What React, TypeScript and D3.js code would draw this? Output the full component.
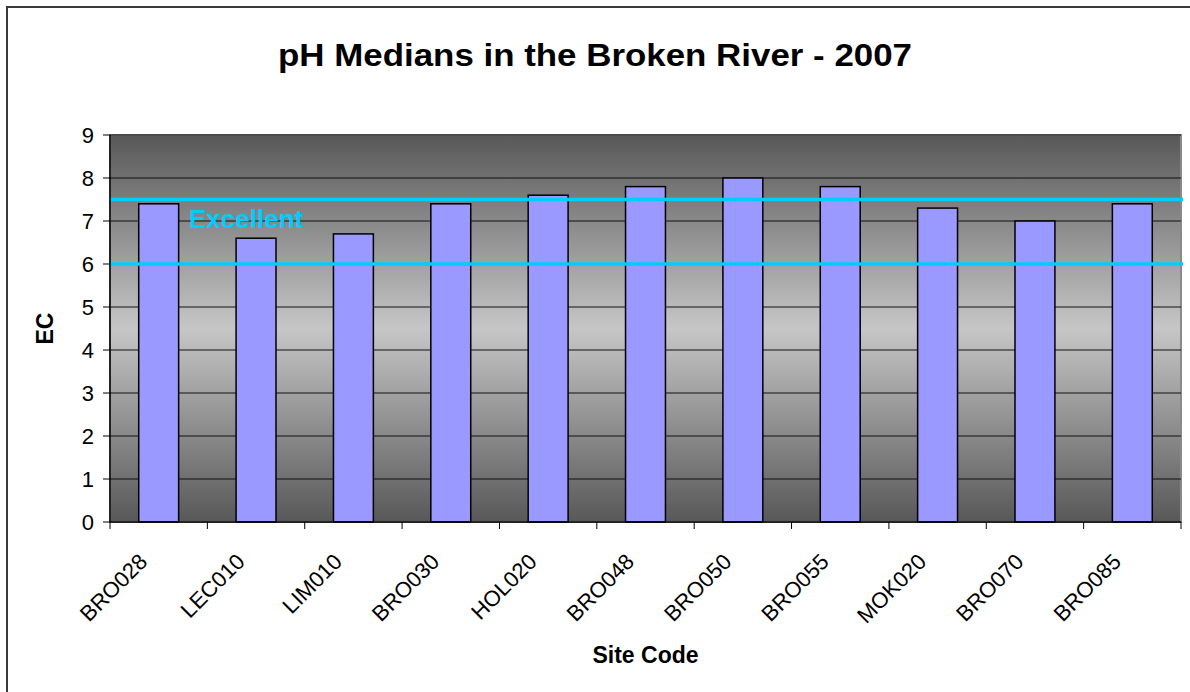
import React from 'react';
import * as d3 from 'd3';

const sites = ['BRO028', 'LEC010', 'LIM010', 'BRO030', 'HOL020', 'BRO048', 'BRO050', 'BRO055', 'MOK020', 'BRO070', 'BRO085'];
const phMedians = [7.4, 6.6, 6.7, 7.4, 7.6, 7.8, 8.0, 7.8, 7.3, 7.0, 7.4];
const yTicks = [0, 1, 2, 3, 4, 5, 6, 7, 8, 9];
const bandLimits = [6.0, 7.5];
const bandLabel = 'Excellent';

const W = 1190;
const H = 692;
const plot = { left: 110, right: 1181, top: 135, bottom: 522 };
const font = 'Arial, "Liberation Sans", sans-serif';

const App: React.FC = () => {
    const x = d3
        .scaleBand<string>()
        .domain(sites)
        .range([plot.left, plot.right])
        .paddingInner(0.59)
        .paddingOuter(0.295);

    const y = d3.scaleLinear().domain([0, 9]).range([plot.bottom, plot.top]);

    const step = x.step();
    const bounds = d3.range(sites.length + 1).map((i) => plot.left + i * step);

    return (
        <svg
            width={W}
            height={H}
            style={{ position: 'absolute', left: 0, top: 0, background: '#fff' }}
            fontFamily={font}
        >
            <defs>
                <linearGradient id="bg" x1="0" y1="0" x2="0" y2="1">
                    <stop offset="0" stopColor="#585858" />
                    <stop offset="0.5" stopColor="#c6c6c6" />
                    <stop offset="1" stopColor="#585858" />
                </linearGradient>
            </defs>

            {/* chart frame */}
            <rect x={7} y={7} width={1200} height={700} fill="#fff" stroke="#3a3a3a" strokeWidth={2} />

            <text x={595} y={66} textAnchor="middle" fontSize={31} fontWeight="bold" textLength={634} lengthAdjust="spacingAndGlyphs">
                pH Medians in the Broken River - 2007
            </text>

            {/* plot area */}
            <rect
                x={plot.left}
                y={plot.top}
                width={plot.right - plot.left}
                height={plot.bottom - plot.top}
                fill="url(#bg)"
                stroke="#8a8a8a"
                strokeWidth={2}
            />

            {yTicks.slice(1).map((t) => (
                <line key={t} x1={plot.left} x2={plot.right} y1={y(t)} y2={y(t)} stroke="#111" strokeWidth={1} />
            ))}

            {sites.map((s, i) => (
                <rect
                    key={s}
                    x={x(s)}
                    y={y(phMedians[i])}
                    width={x.bandwidth()}
                    height={y(0) - y(phMedians[i])}
                    fill="#9999ff"
                    stroke="#000"
                    strokeWidth={1.5}
                />
            ))}

            {bandLimits.map((v) => (
                <line key={v} x1={plot.left} x2={plot.right + 2} y1={y(v)} y2={y(v)} stroke="#00ccff" strokeWidth={3.3} />
            ))}
            <text x={189} y={y(bandLimits[1]) + 28} fontSize={26} fontWeight="bold" fill="#00ccff">
                {bandLabel}
            </text>

            {/* y axis */}
            <line x1={plot.left} x2={plot.left} y1={plot.top} y2={plot.bottom} stroke="#000" strokeWidth={1.5} />
            {yTicks.map((t) => (
                <g key={t}>
                    <line x1={plot.left - 7} x2={plot.left} y1={y(t)} y2={y(t)} stroke="#000" />
                    <text x={94} y={y(t)} dy="0.36em" textAnchor="end" fontSize={22}>
                        {t}
                    </text>
                </g>
            ))}
            <text transform={`translate(53,${(plot.top + plot.bottom) / 2}) rotate(-90)`} textAnchor="middle" fontSize={23} fontWeight="bold">
                EC
            </text>

            {/* x axis */}
            <line x1={plot.left} x2={plot.right} y1={plot.bottom} y2={plot.bottom} stroke="#000" strokeWidth={1.5} />
            {bounds.map((b, i) => (
                <line key={i} x1={b} x2={b} y1={plot.bottom} y2={plot.bottom + 7} stroke="#000" />
            ))}
            {sites.map((s) => {
                const cx = (x(s) as number) + x.bandwidth() / 2;
                return (
                    <text key={s} transform={`translate(${cx - 10},563) rotate(-45)`} textAnchor="end" fontSize={22}>
                        {s}
                    </text>
                );
            })}
            <text x={(plot.left + plot.right) / 2} y={663} textAnchor="middle" fontSize={23} fontWeight="bold">
                Site Code
            </text>
        </svg>
    );
};

export default App;
